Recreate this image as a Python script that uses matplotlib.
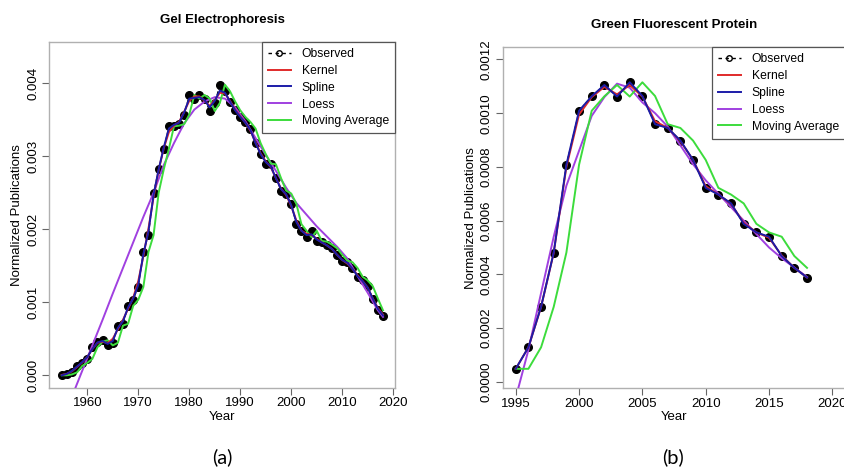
import matplotlib

matplotlib.use("Agg")
import matplotlib.pyplot as plt
import numpy as np
from matplotlib.lines import Line2D

plt.rcParams["font.family"] = ["Liberation Sans", "DejaVu Sans"]

# ---- panel (a): Gel Electrophoresis, values in units of 1e-3 ----
years_a = np.arange(1955, 2019)
observed_a = [
    0.000, 0.012, 0.040, 0.128, 0.170, 0.225, 0.385, 0.460, 0.480, 0.410,
    0.445, 0.680, 0.705, 0.950, 1.035, 1.210, 1.690, 1.920, 2.500, 2.820,
    3.100, 3.410, 3.420, 3.440, 3.570, 3.840, 3.790, 3.840, 3.790, 3.620,
    3.730, 3.980, 3.890, 3.750, 3.630, 3.540, 3.470, 3.380, 3.180, 3.030,
    2.900, 2.890, 2.700, 2.530, 2.490, 2.350, 2.070, 1.980, 1.890, 1.980,
    1.840, 1.830, 1.790, 1.740, 1.650, 1.570, 1.550, 1.470, 1.350, 1.300,
    1.220, 1.050, 0.890, 0.810,
]
kernel_a = [
    0.005, 0.020, 0.055, 0.115, 0.175, 0.250, 0.360, 0.445, 0.460, 0.440,
    0.500, 0.630, 0.760, 0.910, 1.060, 1.290, 1.630, 2.010, 2.440, 2.810,
    3.110, 3.330, 3.420, 3.470, 3.610, 3.760, 3.820, 3.820, 3.760, 3.690,
    3.770, 3.870, 3.860, 3.760, 3.640, 3.550, 3.460, 3.350, 3.190, 3.040,
    2.930, 2.850, 2.700, 2.560, 2.470, 2.320, 2.120, 1.980, 1.940, 1.920,
    1.870, 1.820, 1.780, 1.730, 1.650, 1.580, 1.530, 1.460, 1.370, 1.290,
    1.200, 1.050, 0.920, 0.830,
]
spline_a = [
    0.000, 0.020, 0.060, 0.120, 0.180, 0.250, 0.360, 0.450, 0.470, 0.430,
    0.470, 0.650, 0.740, 0.930, 1.050, 1.240, 1.660, 1.970, 2.470, 2.820,
    3.120, 3.380, 3.430, 3.460, 3.600, 3.790, 3.800, 3.810, 3.770, 3.670,
    3.760, 3.900, 3.870, 3.750, 3.630, 3.540, 3.460, 3.360, 3.180, 3.030,
    2.920, 2.860, 2.700, 2.550, 2.480, 2.330, 2.100, 1.980, 1.920, 1.930,
    1.860, 1.820, 1.780, 1.730, 1.650, 1.580, 1.540, 1.460, 1.360, 1.290,
    1.200, 1.050, 0.910, 0.820,
]
loess_years_a = [
    1957, 1959, 1961, 1963, 1965, 1967, 1969, 1971, 1973, 1975, 1977, 1979,
    1981, 1983, 1985, 1987, 1989, 1991, 1993, 1995, 1997, 1999, 2001, 2003,
    2005, 2007, 2009, 2011, 2013, 2015, 2017, 2018,
]
loess_a = [
    -0.29, 0.06, 0.41, 0.76, 1.12, 1.47, 1.82, 2.17, 2.50, 2.88, 3.18, 3.45,
    3.64, 3.75, 3.81, 3.79, 3.67, 3.48, 3.25, 3.02, 2.80, 2.57, 2.36, 2.20,
    2.04, 1.90, 1.76, 1.60, 1.36, 1.13, 0.89, 0.80,
]
moving_avg_a = [
    0.000, 0.000, 0.012, 0.040, 0.128, 0.170, 0.225, 0.385, 0.460, 0.480,
    0.410, 0.445, 0.680, 0.705, 0.950, 1.035, 1.210, 1.690, 1.920, 2.500,
    2.820, 3.100, 3.410, 3.420, 3.440, 3.570, 3.840, 3.790, 3.840, 3.790,
    3.620, 3.730, 3.980, 3.890, 3.750, 3.630, 3.540, 3.470, 3.380, 3.180,
    3.030, 2.900, 2.890, 2.700, 2.530, 2.490, 2.350, 2.070, 1.980, 1.890,
    1.980, 1.840, 1.830, 1.790, 1.740, 1.650, 1.570, 1.550, 1.470, 1.350,
    1.300, 1.220, 1.050, 0.890,
]

# ---- panel (b): Green Fluorescent Protein, values in units of 1e-4 ----
years_b = np.arange(1995, 2019)
observed_b = [
    0.48, 1.28, 2.79, 4.81, 8.08, 10.09, 10.63, 11.05, 10.62, 11.15, 10.64, 9.59,
    9.45, 8.98, 8.26, 7.22, 6.97, 6.64, 5.88, 5.56, 5.40, 4.68, 4.24, 3.88,
]
kernel_b = [
    0.48, 1.28, 2.78, 4.80, 8.00, 9.95, 10.60, 10.98, 10.70, 11.05, 10.62, 9.70,
    9.45, 8.96, 8.26, 7.28, 6.97, 6.62, 5.92, 5.56, 5.36, 4.70, 4.24, 3.88,
]
spline_b = [
    0.48, 1.28, 2.79, 4.81, 8.08, 10.09, 10.63, 11.05, 10.62, 11.15, 10.64, 9.59,
    9.45, 8.98, 8.26, 7.22, 6.97, 6.64, 5.88, 5.56, 5.40, 4.68, 4.24, 3.88,
]
loess_b = [
    -0.60, 1.18, 3.30, 5.40, 7.30, 8.60, 9.90, 10.60, 11.10, 10.95, 10.40, 10.00,
    9.50, 8.80, 8.10, 7.50, 7.00, 6.50, 6.00, 5.50, 5.00, 4.60, 4.25, 3.90,
]
moving_avg_b = [
    0.48, 0.48, 1.28, 2.79, 4.81, 8.08, 10.09, 10.63, 11.05, 10.62, 11.15, 10.64,
    9.59, 9.45, 8.98, 8.26, 7.22, 6.97, 6.64, 5.88, 5.56, 5.40, 4.68, 4.24,
]

KERNEL = "#e02a2a"
SPLINE = "#1c1ca8"
LOESS = "#a040e0"
MOVAVG = "#3cdc3c"
GREY = "#b0b0b0"
LW = 1.4


def draw_panel(ax, years, obs, kern, spl, lo_x, lo_y, mav, scale, title):
    ax.plot(years, np.array(obs) * scale, "o", color="black", ms=5.5, zorder=2)
    ax.plot(years, np.array(obs) * scale, "--", color="black", lw=0.8, zorder=2)
    ax.plot(lo_x, np.array(lo_y) * scale, color=LOESS, lw=LW, zorder=3)
    ax.plot(years, np.array(mav) * scale, color=MOVAVG, lw=LW, zorder=3)
    ax.plot(years, np.array(kern) * scale, color=KERNEL, lw=LW, zorder=3)
    ax.plot(years, np.array(spl) * scale, color=SPLINE, lw=LW, zorder=4)
    ax.set_title(title, fontsize=9.5, fontweight="bold", pad=14)
    ax.set_xlabel("Year", fontsize=9.5, labelpad=1)
    ax.set_ylabel("Normalized Publications", fontsize=9.5, labelpad=3)
    for s in ax.spines.values():
        s.set_color(GREY)
        s.set_linewidth(1.0)
    ax.tick_params(axis="both", length=5, width=0.8, color="#666666",
                   labelsize=9.5, pad=2)

    handles = [
        Line2D([], [], color="black", ls=(0, (2.5, 2.5)), marker="o",
               mfc="none", mec="black", ms=4, lw=1),
        Line2D([], [], color=KERNEL, lw=LW),
        Line2D([], [], color=SPLINE, lw=LW),
        Line2D([], [], color=LOESS, lw=LW),
        Line2D([], [], color=MOVAVG, lw=LW),
    ]
    leg = ax.legend(handles, ["Observed", "Kernel", "Spline", "Loess", "Moving Average"],
                    loc="upper right", borderaxespad=0, fontsize=8.7,
                    fancybox=False, framealpha=1, edgecolor="#555555",
                    handlelength=1.9, handletextpad=0.9, labelspacing=0.4,
                    borderpad=0.5)
    leg.get_frame().set_linewidth(0.9)


fig = plt.figure(figsize=(8.44, 4.72), dpi=100)

ax_a = fig.add_axes([0.0584, 0.1786, 0.4096, 0.7325])
draw_panel(ax_a, years_a, observed_a, kernel_a, spline_a, loess_years_a, loess_a,
           moving_avg_a, 1e-3, "Gel Electrophoresis")
ax_a.set_xlim(1952.55, 2020.35)
ax_a.set_ylim(-0.00017, 0.004566)
ax_a.set_xticks([1960, 1970, 1980, 1990, 2000, 2010, 2020])
ax_a.set_yticks([0.000, 0.001, 0.002, 0.003, 0.004])
ax_a.set_yticklabels(["0.000", "0.001", "0.002", "0.003", "0.004"],
                     rotation=90, va="center")

ax_b = fig.add_axes([0.5956, 0.1773, 0.4056, 0.7225])
draw_panel(ax_b, years_b, observed_b, kernel_b, spline_b, years_b, loess_b,
           moving_avg_b, 1e-4, "Green Fluorescent Protein")
ax_b.set_xlim(1993.97, 2021.0)
ax_b.set_ylim(-0.0000246, 0.0012454)
ax_b.set_xticks([1995, 2000, 2005, 2010, 2015, 2020])
ax_b.set_yticks([0.0, 0.0002, 0.0004, 0.0006, 0.0008, 0.0010, 0.0012])
ax_b.set_yticklabels(["0.0000", "0.0002", "0.0004", "0.0006", "0.0008",
                      "0.0010", "0.0012"], rotation=90, va="center")

fig.text(0.263, 0.018, "(a)", fontsize=14.5, ha="center", family=["Lato", "DejaVu Sans"])
fig.text(0.797, 0.018, "(b)", fontsize=14.5, ha="center", family=["Lato", "DejaVu Sans"])

fig.savefig("out.png", dpi=100)
